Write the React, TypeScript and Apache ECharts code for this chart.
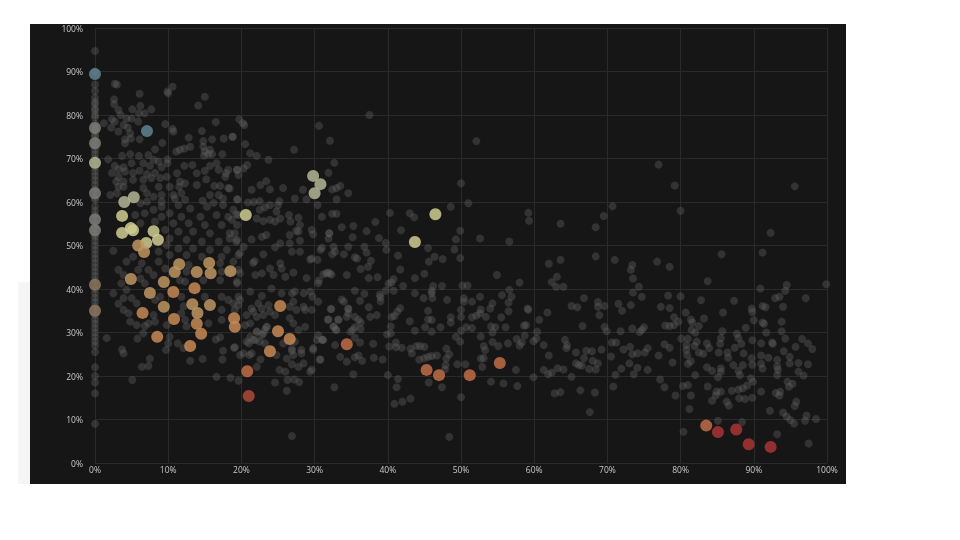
import React, { useEffect, useRef } from "react";
import * as echarts from "echarts";

const zeroColumn = [94.7, 90, 87, 85.5, 84, 83, 82.5, 81.5, 81, 80, 79.5, 78, 77, 76.5, 75.5, 75, 74, 73, 72, 71, 70, 68, 67, 66, 65, 64, 63, 61, 60.5, 59, 58, 57, 55, 54, 52.5, 52, 51, 50, 49, 48, 47, 46, 45, 44, 43, 42, 40, 39, 38, 37, 36, 34, 33, 32, 31, 30, 29, 28, 27, 25.5, 22, 20, 18.5, 16, 9];

const grayRight = [
[77,68.6],[79.2,63.8],[95.6,63.6],[80,58],[70.7,59],[69.5,56.8],[92.3,52.9],[91.2,48.4],[85.6,48],[71,46.7],[76.8,46.3],[73.4,45.5],[78.5,45.1],[73.2,44.4],[73.5,42.4],[83.7,41.8],[74.3,40.5],[94.5,40.9],[99.9,41.1],[90.9,40.1],[73.5,39.2],[74.7,38.2],[78.3,38.5],[80,38.3],[82.8,37.4],[87.3,37.3],[92.9,37.9],[93.5,38.2],[94.3,39.6],[97.1,37.9],[69.6,36.1],[71.5,36.6],[73.2,36.3],[72,35],[77.3,35.9],[78.5,35.6],[80.7,34.6],[85.8,34.6],[89.7,35.5],[91.2,36.1],[91.6,35.8],[94,35.9],[89.8,34.7],[79.1,33.5],[81.4,33],[83.2,33.2],[90,32.8],[93.8,32.5],[79.7,32.5],[77.9,31.6],[78.5,31.5],[79.1,31.7],[82.5,31.5],[81.6,32.3],[91.2,32.3],[91.4,32],[69.6,31.3],[69.9,30.3],[71.8,30.3],[73.4,30.9],[74.4,30.1],[75,31.2],[74.7,30.6],[81.5,30.6],[82,30],[85.7,30.3],[88.9,31.1],[87.7,29.7],[91.7,30],[93.8,30.3],[80.1,28.6],[81,28.6],[85.5,28.7],[87.9,28.7],[89.8,28.2],[94.3,28.6],[96.6,28.5],[97.4,27.5],[98,26.2],[70.6,27.7],[71.2,27.7],[77.8,27.3],[78.5,26.5],[80.8,27.1],[82.2,27.9],[81.9,26.9],[83.6,27.5],[83.9,26.4],[85.4,27.4],[88.3,27.4],[87.4,26.5],[91,27.5],[92.5,27.7],[92.6,27.4],[94.1,25.7],[95.7,26.7],[69.2,26.1],[72.2,26.1],[73.1,26.7],[73.4,25],[74.1,25.2],[75.1,25.4],[75.5,26.4],[77,24.7],[80.8,26],[80.9,24.8],[82.5,25.4],[83.1,25.1],[85.2,25.4],[86.4,25.4],[86.5,24.2],[88.6,25.2],[89.7,24.1],[91,24.7],[92,24.2],[93.2,23.7],[94.9,24.4],[70.5,24.5],[78.9,23.1],[81,22.8],[81.4,23.4],[87.2,22.5],[88.5,22.5],[89.8,22.6],[91,22.8],[91.2,21.7],[93.2,22.2],[93.3,21.4],[94.9,22.9],[96.1,23],[97.4,22.7],[73,22.9],[74.1,21.9],[71.9,21.7],[75.5,21.4],[83.6,22],[84.3,21.2],[85.5,21.8],[85.5,21],[87.9,21.2],[88.1,20.2],[96.1,21],[96.8,20.1],[71.1,20.3],[73.6,20.4],[82,20.2],[85.1,19.7],[93.2,20.2],[89.6,19.5],[89.9,18.7],[94.6,18.7],[95.3,18.2],[94.8,17.5],[77.2,19.2],[77.8,17.4],[70.8,17.6],[80.3,17.7],[81,17.9],[83.7,17.6],[89.1,17.8],[88.5,17.2],[79.3,15.5],[81.4,15.5],[84.9,16.4],[85.5,16.4],[87,16.6],[88,14.9],[88.8,14.7],[89.8,15],[87.9,16.9],[91,16.4],[93,16.1],[93.6,16.4],[93.5,15.5],[84.8,15.5],[84.3,14.3],[86.3,14.1],[86.6,13.2],[95.8,14.1],[95.6,13.1],[81.2,12.4],[92.2,12],[94,11.6],[94.5,10.7],[95,9.9],[95.5,9.1],[97.2,10.9],[97,9.7],[98.5,10.1],[85.1,9.7],[88.4,9.4],[80.4,7.2],[93.2,6.6],[97.5,4.5]
];

const grayMiddle = [
[37.5,80],[32.1,74.1],[52.1,74],[32.7,69],[31.9,66.7],[32.4,62.9],[33,63.2],[33.5,63.7],[34.6,62],[33,60.6],[50,64.3],[51,59.7],[48.6,58.9],[40.3,57.5],[32.4,57.3],[33,57.3],[43,57.4],[43.6,56.5],[59.2,57.5],[59.3,55.7],[63.6,55],[38.3,55.4],[68.4,54.2],[33.7,54.2],[35.3,54.5],[32,52.8],[37.1,53.3],[41.8,53.5],[49.9,53.4],[35.2,51.9],[38.8,51.7],[49.3,51.4],[52.6,51.6],[39.7,50.6],[56.6,50.9],[32.6,49.7],[34.6,49.7],[36.8,49.7],[39.8,49],[45.5,49.4],[49.1,49.1],[32.8,48.6],[32.4,48],[34,48],[37.1,48.4],[35.5,47.3],[35.8,47],[41.4,47.7],[46.4,47.4],[47.5,46.9],[49.9,47.1],[45.6,46.3],[37.7,46.5],[68.4,47.5],[62,45.8],[63.6,46.7],[37.3,45.1],[36.3,44.6],[41.7,44.5],[31.2,43.4],[31.8,43.8],[32.3,43.3],[34.4,43.2],[45,43.5],[54.9,43.2],[37.4,42.5],[38.6,42.7],[43.7,42.5],[40.8,42.3],[63.1,42.8],[62.4,41.6],[58,41.5],[40.1,41.2],[40.5,41.5],[39.7,39.6],[63,40.5],[64,40.5],[42.1,40.7],[46.2,40.7],[46,39.6],[47.4,40.7],[50.2,40.8],[50.9,40.8],[56.6,39.8],[56.9,38.2],[35.5,39.6],[40.8,39.6],[36.8,38.9],[38.9,38.7],[39,38.1],[43.7,39],[46,39],[55.6,38.6],[52.6,38.2],[44.9,37.9],[46.1,37.9],[33.7,37.6],[34,37.1],[36.2,37.3],[39,37.2],[48.1,37.5],[50.4,37.9],[50.4,37.1],[51.5,37.1],[54.3,36.7],[54,35.5],[56.5,36.9],[66.8,37.9],[68.7,37],[68.7,35.9],[65.1,36.1],[65.9,35.8],[41.7,35.6],[41.3,34.8],[40.9,33.8],[40.5,33.6],[37.4,35.8],[32.3,35.4],[34.6,35.4],[34.6,34.4],[34.4,33.6],[38.5,34],[37.6,33.6],[59.1,35.5],[59.2,35.2],[45.5,35],[45.5,33],[46,32.9],[52.7,35.3],[52.6,34.4],[52.1,33.9],[51.5,33.5],[53.4,33.6],[56.5,34.9],[50,35.2],[50,33.6],[61.8,34.6],[55.5,33.5],[48.6,33.5],[48.6,32.3],[35.5,33.6],[36,32.9],[36.3,32.3],[31.9,33],[33.3,32.9],[60.7,32.9],[68.9,34],[43,32.6],[32.6,31.4],[32.9,30.6],[35.5,31.2],[35.2,30.6],[36.3,30.8],[34.9,30.2],[40.4,31.4],[40.4,29.8],[39.9,29.6],[45.1,31.2],[47.2,31.2],[43.7,30.4],[46,30.2],[50,30.4],[50.7,31.2],[51.5,31],[54.1,31.4],[54.7,31.2],[54.3,30],[56.1,31.2],[58.6,31.6],[58.9,31.7],[66.6,31.5],[60.4,30.2],[52.7,29.1],[49.3,29],[49.9,27.9],[58.7,29.3],[60.3,28.6],[59.9,28],[57.6,28.5],[58.3,27.7],[58,27],[54.3,27.8],[56.4,27.5],[55.1,26.9],[64.2,28.3],[64.4,26.4],[64.5,27.1],[61.3,27.1],[35.5,28.8],[36.2,27.7],[31.1,28.3],[32.8,27.1],[38,27.4],[41.1,27.7],[40.2,26.8],[41.1,26.6],[41.9,26.5],[43.9,26.9],[44.4,26.9],[45,26.7],[43.1,26.3],[43.3,25.2],[48,26.3],[48.4,25],[48,24],[53.1,26.9],[53.3,25.9],[53.1,24.1],[67.1,25.8],[67.9,25.7],[65.7,25.4],[62,24.7],[33.5,24.4],[34.4,23.3],[35.5,24.3],[36,24.7],[36.5,23.5],[38.1,24.2],[39.3,23.8],[44.3,23.8],[45,24.1],[45.5,24.4],[46,24.6],[46.7,24.7],[66.8,24.1],[68,23.5],[65.7,22.9],[66.1,22.5],[66.5,22.4],[68.7,22.9],[47.9,22.5],[49.5,22.7],[50.6,22.7],[52.7,24],[52.9,22.1],[57.5,21.4],[61.3,21.4],[63.2,21.8],[64,21.5],[61.9,20.4],[62.4,20.8],[67.5,21.6],[68.4,21.5],[65.1,19.8],[35.3,20.4],[40,20.2],[59.9,19.7],[47.8,21.5],[41.4,19.3],[45.6,18.5],[54.1,18.7],[55.8,18.3],[57.7,17.7],[32.7,17.4],[41.2,17.4],[47.4,17.4],[66.3,16.7],[68.3,16.2],[62.8,16],[63.6,16.3],[43.1,14.8],[42,14.1],[40.9,13.6],[50,15.1],[67.6,11.7],[48.4,6]
];

const grayUpperLeft = [
[3,87],[2.7,87.2],[10,85],[10.6,86.5],[9.9,85.4],[6.1,84.9],[15,84.2],[14.1,82.2],[2.6,83.6],[2.6,82.5],[6.2,82.1],[7.7,81.3],[5.1,81.3],[3.2,81.2],[6,80.4],[6.8,80.4],[3.5,80],[16.5,78.4],[19.7,79],[2.3,79],[4.3,79.2],[1.2,78.1],[2.7,78.5],[5,79.2],[5.9,78.5],[9.6,77.9],[3.9,77.7],[2.2,77.1],[3.2,76.2],[4.5,77.1],[10.6,76.8],[10.7,76.2],[14.6,76.3],[4.8,75.8],[4.9,74.6],[4.1,74.4],[4.1,73.5],[6.1,74.4],[9.2,73.6],[12.8,74.8],[14.8,74],[16,74.4],[17.6,74.6],[18.8,75],[13,72.7],[12.2,72.3],[11.6,72],[11.1,71.6],[8.2,72.1],[14.8,72.7],[15,71.6],[15.7,72],[15.5,71],[16,71],[14.9,70.7],[17.4,71],[4.8,71],[6,70.6],[3.7,70.6],[7.3,70.8],[8,69.7],[9.9,69.8],[8.7,69.3],[1.8,69.8],[2.7,68.3],[5,68.9],[6.6,68.9],[7.5,68.3],[9.1,68],[9.9,68.9],[12.2,68.3],[13.3,68.5],[15.7,68.3],[16.6,68.9],[3.9,68],[2.3,66.7],[3.2,67.5],[4.1,67],[5.2,66.7],[6.1,67.2],[7.1,66.4],[8.2,66.7],[9.8,65.8],[11.2,66.6],[13.9,66.6],[15,67.2],[16.9,67.4],[17.9,66.6],[19.4,67.4],[18.2,67.4],[3.2,65.8],[3.9,64.7],[2.9,64.7],[7.7,65.5],[8.9,65.5],[6.6,65.1],[5.2,65.1],[15.2,65.2],[17.8,65.8],[3.2,63.5],[3.9,63.5],[6.6,63.2],[8.7,63.5],[10.2,63.5],[11.6,64.7],[12.3,64.3],[11.5,63.5],[13.9,63.9],[16.3,63.7],[17.1,63.7],[18.2,63.2],[2.1,61.6],[3,62],[7.1,62],[8,61.2],[9.1,61.6],[10.7,61.6],[11.8,62],[12.3,60.5],[14.7,60.3],[15.7,61.6],[16.9,61.6],[17.5,60.8],[19.5,60.6],[7.1,60.1],[9.1,60.1],[10.9,60.8],[16.2,59.8]
];

const grayLowerLeft = [
[6.2,59.7],[8,58.2],[9.1,58.9],[11.4,59.3],[13,58.5],[15.3,58.9],[17.5,59.3],[18.9,58.2],[5.5,57],[6.8,57.4],[9.1,56.6],[10.2,57.4],[11.8,56.6],[14.4,56.6],[16.6,57],[18.2,56.6],[19.6,57],[6.2,55.1],[8.2,55.5],[10.7,55.1],[12.8,55.1],[15,54.7],[17.3,54.7],[19.4,54.7],[9.6,53.6],[11.4,53.2],[13.4,53.2],[15.7,52.8],[18.4,52.8],[10.2,51.6],[12.5,51.3],[14.6,50.9],[16.9,50.9],[19.4,51.3],[9.8,50.1],[11.4,49.3],[13.4,49.3],[15.7,49],[18,49],[2.5,48.8],[5.2,47.4],[8.7,48.6],[10.2,47.8],[12.5,47.8],[14.6,47.4],[17.3,47.4],[19.6,47.8],[4.3,46.3],[6.4,45.9],[8.7,46.3],[12.8,45.5],[17.1,45.9],[18.9,46.3],[3.2,44.4],[5.9,44.4],[7.3,44.4],[9.6,44.7],[12.5,44],[17.3,44],[19.6,44.4],[3.9,43.2],[6.2,42.4],[8,43.2],[11.6,42],[14.8,42],[17.1,42],[19.4,41.7],[3.6,41.3],[6.8,41.3],[12.3,41.7],[2.5,39],[4.3,39.8],[3.9,37.9],[3.2,36.6],[5,37.9],[5.7,36.7],[8.2,37.5],[8.9,38.2],[11.8,38.2],[15,38.2],[12.1,36],[17.3,38.2],[18.2,37.5],[19.6,38.2],[3.9,35.2],[4.6,34.4],[8,34],[11.8,34.4],[12.3,32.9],[8.2,32.5],[4.8,32.5],[17.3,35.2],[19.6,36.3],[5.7,31.7],[7.3,32.1],[9.8,31.7],[12.5,31.4],[15.5,32.1],[17.3,32.9],[1.6,28.7],[3.7,26.1],[3.9,25.2],[6.8,31.5],[6.6,29.8],[5.8,28.6],[10.2,29],[10,27.5],[9.7,26],[11.3,27.5],[12.1,26.4],[7.5,24],[6.4,22.1],[7.3,22.3],[5.1,19.1],[13,23.5],[14.7,23.9],[16.5,28.4],[17.1,28.9],[17.5,25.8],[17.4,23.8],[19,26.5],[19.8,24.8],[21.1,24.8],[16.6,19.8],[18.5,19.6],[19.6,18.9],[20.7,27.9],[21.6,28.3],[22.5,27.9],[22.1,22.1],[22.6,23.8],[23.5,31.3],[23,29.8],[22.1,30.2],[25.2,21.4],[26,21],[24.6,18.5],[26.2,16.6],[26.9,25.8],[28.2,25.2],[26.9,22.7],[27.8,22.1],[28.5,22.9],[29.4,21],[29.6,21.5],[26.3,19.1],[27.2,19.2],[27.9,18.6],[26.9,6.2],[29.8,26],[30.8,23.8],[30.3,28.3],[31,28.3]
];

const grayCenter = [
[20.2,78.1],[20.4,77.7],[30.6,77.5],[18.8,75],[20.5,73.3],[27.2,72],[21.2,71.2],[22.1,70.6],[23.7,69.7],[19.4,67.4],[20.3,67.7],[20.8,68.5],[19.6,66.2],[23.4,64.8],[22.6,63.9],[18.4,63.1],[21.4,62.8],[23.9,62.9],[25.7,63.2],[28.4,62.8],[19.4,60.6],[20.9,59.9],[21.7,60],[22.5,60.2],[25.2,60.2],[25,59.3],[27.3,60.8],[28.9,60.6],[30.4,59.3],[23.9,59.3],[23.2,58.8],[22.5,58.2],[24.8,57.8],[26.5,57],[27.8,56.4],[31,56.6],[19.3,57.2],[18.7,55.9],[22.1,56.2],[23,55.6],[23.9,55.9],[24.6,55.5],[25.3,56.2],[26.7,55.5],[28,54.7],[27.5,53.4],[27.8,53.2],[23.4,52.4],[22.8,52],[21.4,51.4],[19.1,52.8],[18.4,51.6],[26.6,52.4],[29.6,53.6],[29.8,52.6],[31.9,51.6],[32,52.8],[28,51.1],[25.3,50.5],[26.6,50.5],[24.6,49.6],[31,49.5],[19.3,50.9],[20.3,49.7],[19.8,48.3],[21.6,46],[21.8,46.4],[23,48],[26.9,48.6],[28,48.6],[30.8,49],[22.8,43.6],[21.9,43.2],[23.9,44.7],[25.3,45.9],[25.5,44.7],[24.4,43.2],[27.1,43.8],[26,42.8],[28.9,42.5],[29.6,47],[29.4,46.8],[30.4,46.7],[30.5,41.3],[30.6,42],[31.6,43.6],[32.1,43.6],[19.4,41.3],[19.8,43.6],[18.4,44],[21.2,39.4],[22.8,38.4],[24.1,40.1],[25.5,39],[26.9,39],[27.3,39.4],[28.5,39],[29.4,39.4],[29.7,38.2],[30.5,37.1],[18.9,36.7],[19.1,35.2],[19.8,37.5],[22.3,36.7],[21.4,35.5],[22.8,35.5],[23.7,36.3],[27.1,37.1],[27.5,35.2],[26.6,35.9],[28.5,35.9],[28.7,35.2],[29.6,35.2],[32.2,35.4],[31.8,33],[33.2,33],[34.6,35.5],[32.6,31.3],[33,30.6],[21.6,34.8],[20.7,34],[22.1,33.6],[23,34],[23.9,34.8],[24.6,34],[26.6,33.3],[27.1,32.1],[27.8,30.6],[20.5,31.7],[21.2,32.1],[23.4,31.3],[23.2,30.6],[22.1,30.2],[21.2,29],[21,27.5],[21.9,28.3],[22.8,29.4],[23.2,27.5],[19.1,26.6],[20.3,25.2],[21.4,25.2],[25.7,27.5],[27.3,27.9],[28.2,26],[28.7,31.3],[29.8,26.4],[30.7,23.8],[30.5,29.4],[31.2,28.3],[24.8,24.8],[26.9,26.3],[27.1,24.8],[26.2,24]
];

const steelPoints = [[0,89.4],[7.1,76.3]];
const neutralPoints = [[0,77],[0,73.5],[0,62],[0,56],[0,53.5]];
const brownPoints = [[0,41],[0,35]];
const palePoints = [[0,69],[29.8,66],[30.8,64.1],[30,62],[4,60],[5.3,61.1]];
const yellowPoints = [[20.6,57],[43.7,50.8],[46.5,57.2],[3.7,56.8],[3.7,52.9],[4.9,54],[5.2,53.5],[8,53.3],[8.6,51.3],[7,50.6]];
const tanPoints = [[5.9,50],[6.7,48.5],[11.5,45.7],[15.6,46],[15.8,43.6],[18.5,44.1],[10.9,43.9],[13.9,43.9],[4.9,42.3],[9.4,41.6],[7.5,39.1],[13.3,36.5],[15.7,36.3],[14,34.5],[9.4,35.9]];
const orangePoints = [[10.7,39.3],[13.6,40.2],[6.5,34.5],[10.8,33.1],[19,33.3],[13.9,32],[19.1,31.3],[14.5,29.7],[8.5,29],[13,26.9],[25,30.3],[26.6,28.5],[23.9,25.7],[25.3,36.1]];
const rustPoints = [[34.4,27.3],[45.3,21.4],[47,20.2],[51.2,20.2],[55.3,23],[20.8,21.1],[83.5,8.6]];
const brickPoints = [[21,15.4]];
const redPoints = [[85.1,7.1],[87.6,7.7],[89.3,4.3],[92.3,3.7]];

const grayPoints = [
  ...zeroColumn.map((y) => [0, y]),
  ...grayRight,
  ...grayMiddle,
  ...grayUpperLeft,
  ...grayLowerLeft,
  ...grayCenter,
];

const coloured = [
  { data: neutralPoints, color: "#7d7d76" },
  { data: brownPoints, color: "#8d775f" },
  { data: steelPoints, color: "#5f8490" },
  { data: palePoints, color: "#b3b693" },
  { data: yellowPoints, color: "#cfcd8f" },
  { data: tanPoints, color: "#bd9560" },
  { data: orangePoints, color: "#c78a55" },
  { data: rustPoints, color: "#bf6c47" },
  { data: brickPoints, color: "#ad4a36" },
  { data: redPoints, color: "#a93434" },
];

export default function App() {
  const ref = useRef<HTMLDivElement>(null);
  useEffect(() => {
    const chart = echarts.init(ref.current!, null, { renderer: "svg" });
    const axisBase = {
      type: "value",
      min: 0,
      max: 100,
      interval: 10,
      axisLine: { show: false },
      axisTick: { show: false },
      splitLine: { show: true, lineStyle: { color: "#2a2a2a", width: 1 } },
    };
    const labelStyle = {
      color: "#c8c8c8",
      fontSize: 8.5,
      fontFamily: "Open Sans",
      formatter: "{value}%",
    };
    chart.setOption({
      animation: false,
      backgroundColor: "#ffffff",
      grid: { left: 95, right: 133, top: 28, bottom: 77 },
      xAxis: { ...axisBase, axisLabel: { ...labelStyle, margin: 2, showMaxLabel: true } },
      yAxis: { ...axisBase, axisLabel: { ...labelStyle, margin: 12 } },
      graphic: [
        { type: "rect", z: -20, shape: { x: 18, y: 282, width: 12, height: 202 }, style: { fill: "#f5f5f5" } },
        { type: "rect", z: -20, shape: { x: 30, y: 24, width: 816, height: 460 }, style: { fill: "#161616" } },
      ],
      series: [
        {
          type: "scatter",
          data: grayPoints,
          symbolSize: 8,
          silent: true,
          clip: false,
          itemStyle: { color: "#666666", opacity: 0.36 },
        },
        ...coloured.map((c) => ({
          type: "scatter",
          data: c.data,
          symbolSize: 12,
          silent: true,
          clip: false,
          itemStyle: { color: c.color, opacity: 0.85 },
        })),
      ],
    });
    return () => chart.dispose();
  }, []);
  return (
    <div
      ref={ref}
      style={{ position: "fixed", left: 0, top: 0, width: 960, height: 540, filter: "blur(0.7px)" }}
    />
  );
}
